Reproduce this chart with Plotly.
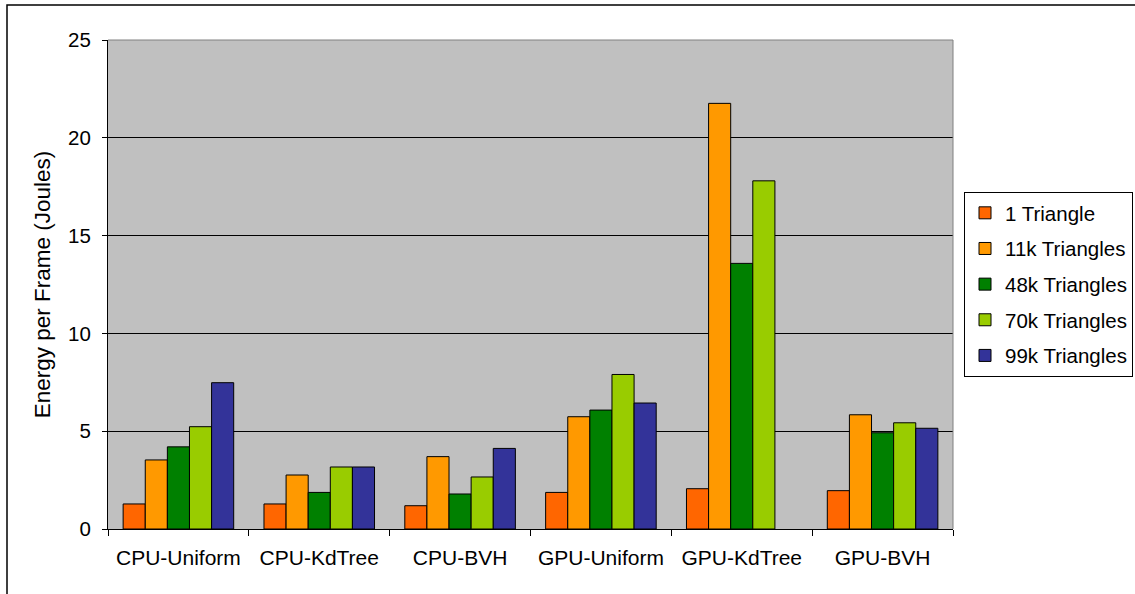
import plotly.graph_objects as go

categories = ["CPU-Uniform", "CPU-KdTree", "CPU-BVH", "GPU-Uniform", "GPU-KdTree", "GPU-BVH"]
series_names = ["1 Triangle", "11k Triangles", "48k Triangles", "70k Triangles", "99k Triangles"]
tri_1 = [1.28, 1.28, 1.19, 1.87, 2.06, 1.96]
tri_11k = [3.53, 2.76, 3.70, 5.74, 21.76, 5.84]
tri_48k = [4.20, 1.87, 1.79, 6.08, 13.58, 4.92]
tri_70k = [5.23, 3.17, 2.66, 7.90, 17.80, 5.43]
tri_99k = [7.48, 3.17, 4.12, 6.44, None, 5.15]
colors = ["#FF6600", "#FF9900", "#008000", "#99CC00", "#333399"]
y_ticks = [0, 5, 10, 15, 20, 25]

series_values = [tri_1, tri_11k, tri_48k, tri_70k, tri_99k]

FONT = "Liberation Sans, Arial, sans-serif"

fig = go.Figure()
for i, (name, vals, col) in enumerate(zip(series_names, series_values, colors)):
    fig.add_trace(go.Bar(
        x=categories, y=vals, name=name,
        marker=dict(color=col, line=dict(color="black", width=1)),
        legendgroup=f"g{i}",
    ))

fig.update_layout(
    width=1135, height=594,
    barmode="group", bargap=0.215, bargroupgap=0,
    plot_bgcolor="#C0C0C0", paper_bgcolor="white",
    margin=dict(l=108, r=182, t=40, b=65, autoexpand=False),
    font=dict(family=FONT, size=20, color="black"),
    legend=dict(
        x=(964 - 108) / 845, y=(529 - 192) / 489, xanchor="left", yanchor="top",
        bgcolor="white", bordercolor="black", borderwidth=1,
        font=dict(family=FONT, size=20.5, color="black"),
        tracegroupgap=6, itemwidth=30,
    ),
    showlegend=True,
)

fig.update_xaxes(
    type="category", tickson="boundaries", ticks="outside", ticklen=6,
    tickcolor="black", tickwidth=1, showline=True, linecolor="black", linewidth=1,
    showgrid=False, tickfont=dict(family=FONT, size=21, color="black"),
    ticklabelstandoff=10,
)
fig.update_yaxes(
    range=[0, 25], tickvals=y_ticks, ticks="outside", ticklen=5, tickcolor="black",
    showline=True, linecolor="black", linewidth=1,
    showgrid=True, gridcolor="black", gridwidth=1, zeroline=False,
    tickfont=dict(family=FONT, size=20.5, color="black"),
    ticklabelstandoff=7,
    title=dict(text="Energy per Frame (Joules)", font=dict(family=FONT, size=22.5, color="black"), standoff=11),
)

# plot-area top and right border (gray)
fig.add_shape(type="line", xref="paper", yref="paper", x0=0, x1=1, y0=1, y1=1,
              line=dict(color="#808080", width=1), layer="above")
fig.add_shape(type="line", xref="paper", yref="paper", x0=1, x1=1, y0=0, y1=1,
              line=dict(color="#808080", width=1), layer="above")
# outer chart border
fig.add_shape(type="rect", xref="paper", yref="paper",
              x0=(7 - 108) / 845, x1=(1145 - 108) / 845,
              y0=(529 - 605) / 489, y1=(529 - 5) / 489,
              line=dict(color="black", width=1.5), fillcolor="rgba(0,0,0,0)", layer="below")

fig.write_html("out.html", config={"displayModeBar": False},
               post_script="document.body.style.margin='0';")
